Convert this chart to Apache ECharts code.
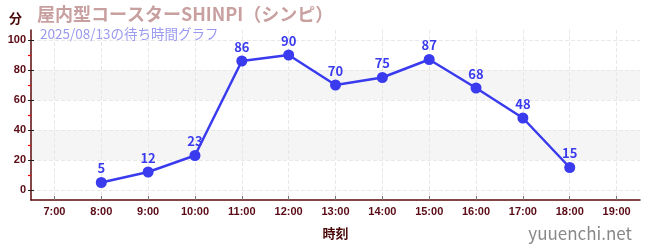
<!DOCTYPE html>
<html><head><meta charset="utf-8">
<script src="https://cdn.jsdelivr.net/npm/echarts@6/dist/echarts.min.js"></script>
<style>html,body{margin:0;padding:0;background:#fff}#c{width:650px;height:250px}</style>
</head><body><div id="c"></div>
<script>
const categories = ['7:00','8:00','9:00','10:00','11:00','12:00','13:00','14:00','15:00','16:00','17:00','18:00','19:00'];
const waitTimes = [null,5,12,23,86,90,70,75,87,68,48,15,null];
const yTicks = [0,20,40,60,80,100];
const yMinorTicks = [10,30,50,70,90];
const titleText = '屋内型コースターSHINPI（シンピ）';
const subtitleText = '2025/08/13の待ち時間グラフ';
const yUnit = '分';
const xName = '時刻';
const watermark = 'yuuenchi.net';

const FONT = '"Noto Sans CJK JP","Noto Sans",sans-serif';
const NARROW = '"Liberation Sans Narrow","Liberation Sans",sans-serif';
const axisColor = '#5a0a0a';
const labelColor = '#5a0a14';
const chart = echarts.init(document.getElementById('c'));
const yMin = -6.67, yMax = 106.67;
const xIdx = categories.map((c,i)=>i);
const seriesData = waitTimes.map((v,i)=>[i,v]).filter(d=>d[1]!==null);
chart.setOption({
  animation:false,
  textStyle:{fontFamily:FONT},
  title:[
    {text:titleText,left:32,top:0,textStyle:{color:'#c9a0a0',fontSize:18,fontWeight:'bold',fontFamily:FONT}},
    {text:subtitleText,left:35,top:22,textStyle:{color:'#9a9af0',fontSize:13.5,fontWeight:'normal',fontFamily:FONT}},
    {text:yUnit,left:4,top:7,textStyle:{color:'#4a0a0a',fontSize:13,fontWeight:'bold',fontFamily:FONT}},
    {text:watermark,right:13,bottom:3,textStyle:{color:'#888',fontSize:17,fontWeight:'normal',fontFamily:FONT}}
  ],
  grid:{left:31,right:10,top:30,bottom:50,containLabel:false},
  xAxis:{
    type:'value',min:-0.5,max:categories.length-0.5,
    name:xName,nameLocation:'middle',nameGap:27,
    nameTextStyle:{color:'#4a0a0a',fontSize:13,fontWeight:'bold',fontFamily:FONT},
    axisLine:{show:true,onZero:false,lineStyle:{color:axisColor,width:1.5}},
    axisTick:{show:true,inside:true,length:4,lineStyle:{color:'#777'},customValues:xIdx},
    axisLabel:{color:labelColor,fontSize:11,fontWeight:'bold',margin:6,fontFamily:NARROW,customValues:xIdx,formatter:v=>categories[Math.round(v)]},
    splitLine:{show:true,lineStyle:{color:'#e8e8e8',type:'dashed'}}
  },
  yAxis:[
    {type:'value',min:yMin,max:yMax,
     axisLine:{show:true,onZero:false,lineStyle:{color:axisColor,width:1.5}},
     axisTick:{show:true,length:3,lineStyle:{color:'#222'},customValues:yTicks},
     axisLabel:{color:labelColor,fontSize:11,fontWeight:'bold',margin:5,fontFamily:NARROW,customValues:yTicks,formatter:v=>String(Math.round(v))},
     splitLine:{show:true,lineStyle:{color:'#e8e8e8',type:'dashed'}},
     splitArea:{show:true,areaStyle:{color:['rgba(255,255,255,0)','rgba(242,242,242,0.8)']}}
    },
    {type:'value',min:yMin,max:yMax,position:'left',
     axisLine:{show:false,onZero:false},
     axisTick:{show:true,length:3,lineStyle:{color:'#e00',width:1.2},customValues:yMinorTicks},
     axisLabel:{show:false,customValues:yMinorTicks},
     splitLine:{show:false},splitArea:{show:false}
    },
    {type:'value',min:yMin,max:yMax,position:'left',
     axisLine:{show:false,onZero:false},
     axisTick:{show:true,inside:true,length:3,lineStyle:{color:'#222'},customValues:yTicks},
     axisLabel:{show:false,customValues:yTicks},
     splitLine:{show:false},splitArea:{show:false}
    }
  ],
  series:[{
    type:'line',data:seriesData,yAxisIndex:0,
    symbol:'circle',symbolSize:11,
    lineStyle:{color:'#3a3aee',width:2.5},
    itemStyle:{color:'#3a3aee'},
    label:{show:true,position:'top',color:'#3a3aee',fontSize:13,fontWeight:'bold',distance:2,fontFamily:FONT,formatter:p=>p.value[1]}
  }]
});
</script></body></html>
